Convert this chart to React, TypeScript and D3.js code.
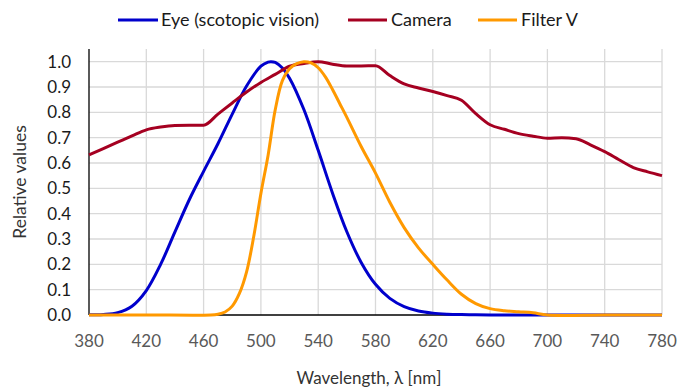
import React from "react";
import * as d3 from "d3";

const eyeX = [380, 390, 400, 410, 420, 430, 440, 450, 460, 470, 480, 490, 500, 505, 507, 510, 515, 520, 530, 540, 550, 560, 570, 580, 590, 600, 610, 620, 630, 640, 650, 660, 670, 680, 690, 700, 720, 740, 760, 780];
const eyeY = [0.000589, 0.002209, 0.00929, 0.03484, 0.0966, 0.1998, 0.3281, 0.455, 0.567, 0.676, 0.793, 0.904, 0.982, 0.998, 1.0, 0.997, 0.975, 0.935, 0.811, 0.65, 0.481, 0.3288, 0.2076, 0.1212, 0.0655, 0.03315, 0.01593, 0.00737, 0.003335, 0.001497, 0.000677, 0.000313, 0.000148, 0.0000715, 0.0000353, 0.0000178, 0, 0, 0, 0];

const camX = [380, 390, 400, 410, 420, 430, 440, 450, 460, 470, 480, 490, 500, 510, 520, 530, 540, 550, 560, 570, 580, 590, 600, 610, 620, 630, 640, 650, 660, 670, 680, 690, 700, 710, 720, 730, 740, 750, 760, 770, 780];
const camY = [0.632, 0.657, 0.682, 0.707, 0.731, 0.742, 0.748, 0.749, 0.749, 0.793, 0.837, 0.88, 0.918, 0.95, 0.982, 0.993, 1.0, 0.99, 0.983, 0.983, 0.984, 0.945, 0.912, 0.896, 0.882, 0.866, 0.848, 0.795, 0.751, 0.733, 0.716, 0.706, 0.698, 0.7, 0.696, 0.672, 0.645, 0.613, 0.582, 0.565, 0.55];

const filX = [380, 420, 465, 470, 475, 480, 485, 490, 495, 500, 505, 510, 515, 520, 525, 530, 535, 540, 545, 550, 555, 560, 570, 580, 590, 600, 610, 620, 630, 640, 650, 660, 670, 680, 690, 700, 740, 780];
const filY = [0, 0, 0, 0.003, 0.012, 0.035, 0.085, 0.17, 0.31, 0.48, 0.63, 0.81, 0.925, 0.972, 0.992, 1.0, 0.995, 0.976, 0.94, 0.89, 0.835, 0.78, 0.665, 0.56, 0.445, 0.345, 0.265, 0.2, 0.138, 0.082, 0.045, 0.025, 0.017, 0.013, 0.009, 0, 0, 0];

const xTicks = [380, 420, 460, 500, 540, 580, 620, 660, 700, 740, 780];
const yTicks = [0, 0.1, 0.2, 0.3, 0.4, 0.5, 0.6, 0.7, 0.8, 0.9, 1.0];

const seriesNames = ["Eye (scotopic vision)", "Camera", "Filter V"];
const seriesColors = ["#0000cc", "#a50021", "#ff9900"];

const W = 678;
const H = 389;
const FONT = "Lato, 'Open Sans', sans-serif";

export default function App() {
  const left = 89;
  const right = 662;
  const top = 49;
  const bottom = 315;
  const x = d3.scaleLinear().domain([380, 780]).range([left, right]);
  const y = d3.scaleLinear().domain([0, 1.05]).range([bottom, top]);

  const smooth = d3
    .line<[number, number]>()
    .x((d) => x(d[0]))
    .y((d) => Math.min(y(d[1]), bottom))
    .curve(d3.curveCatmullRom.alpha(0.5));
  const mono = d3
    .line<[number, number]>()
    .x((d) => x(d[0]))
    .y((d) => y(d[1]))
    .curve(d3.curveMonotoneX);

  const series = [
    d3.zip(eyeX, eyeY) as [number, number][],
    d3.zip(camX, camY) as [number, number][],
    d3.zip(filX, filY) as [number, number][],
  ];
  const gens = [smooth, mono, smooth];

  const legend = [
    { x1: 118, x2: 158, tx: 161 },
    { x1: 348, x2: 387, tx: 391 },
    { x1: 478, x2: 517, tx: 521 },
  ];

  return (
    <svg width={W} height={H} style={{ position: "absolute", left: 0, top: 0, background: "#fff" }}>
      <rect width={W} height={H} fill="#fff" />
      {yTicks.filter((t) => t > 0).map((t) => (
        <line key={"gy" + t} x1={left} x2={right} y1={y(t)} y2={y(t)} stroke="#d9d9d9" strokeWidth={1.3} />
      ))}
      {xTicks.filter((t) => t > 380).map((t) => (
        <line key={"gx" + t} x1={x(t)} x2={x(t)} y1={top} y2={bottom} stroke="#d9d9d9" strokeWidth={1.3} />
      ))}
      <line x1={left} x2={left} y1={top} y2={bottom} stroke="#000" strokeWidth={1.3} />
      <line x1={left} x2={right} y1={bottom} y2={bottom} stroke="#000" strokeWidth={1.3} />
      {series.map((s, i) => (
        <path key={i} d={gens[i](s) || ""} fill="none" stroke={seriesColors[i]} strokeWidth={3} strokeLinejoin="round" />
      ))}
      {yTicks.map((t) => (
        <text key={"ty" + t} x={71} y={y(t)} dy="0.36em" textAnchor="end" fontFamily={FONT} fontSize={17} fill="#1a1a1a">
          {d3.format(".1f")(t)}
        </text>
      ))}
      {xTicks.map((t) => (
        <text key={"tx" + t} x={x(t)} y={341} dy="0.36em" textAnchor="middle" fontFamily={FONT} fontSize={17} fill="#595959">
          {t}
        </text>
      ))}
      <text x={369} y={378} dy="0.36em" textAnchor="middle" fontFamily={FONT} fontSize={17} fill="#333">
        Wavelength, λ [nm]
      </text>
      <text transform={`translate(20,182) rotate(-90)`} dy="0.36em" textAnchor="middle" fontFamily={FONT} fontSize={17.5} fill="#333">
        Relative values
      </text>
      {legend.map((l, i) => (
        <g key={"lg" + i}>
          <line x1={l.x1} x2={l.x2} y1={20} y2={20} stroke={seriesColors[i]} strokeWidth={3} />
          <text x={l.tx} y={20} dy="0.36em" fontFamily={FONT} fontSize={18} fill="#1a1a1a">
            {seriesNames[i]}
          </text>
        </g>
      ))}
    </svg>
  );
}
